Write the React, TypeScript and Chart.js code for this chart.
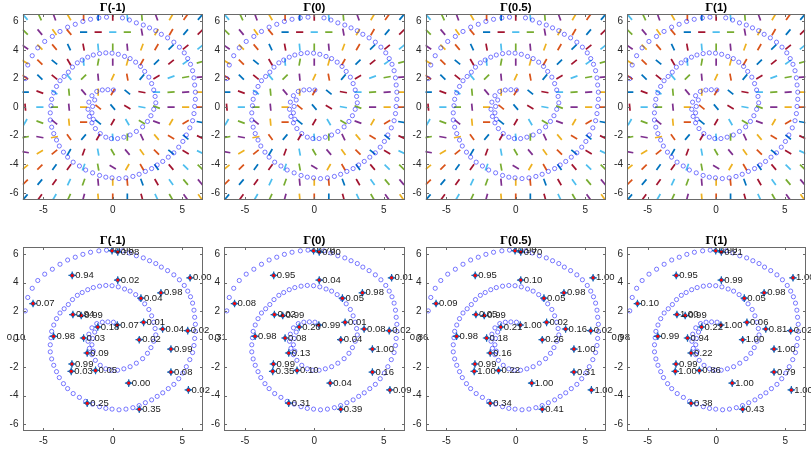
import { useEffect, useRef } from 'react';
import { Chart, registerables } from 'chart.js';

Chart.register(...registerables);

// ---------- data ----------
const panelParams = ['(-1)', '(0)', '(0.5)', '(1)'];
const axisRange = [-6.5, 6.5];
const xTickValues = [-5, 0, 5];
const yTickValues = [-6, -4, -2, 0, 2, 4, 6];

// spiral training points (shared by all panels)
const spiralX = [
  -6.3, -6.12, -5.8, -5.4, -4.9, -4.35, -3.8, -3.25, -2.7, -2.15, -1.6, -1.0, -0.45,
  0.7, 1.2, 1.7, 2.2, 2.65, 3.1, 3.5, 3.95, 4.4, 4.8, 5.15, 5.4, 5.6, 5.75, 5.85, 5.9, 5.95, 5.95, 5.9,
  5.85, 5.75, 5.55, 5.3, 5.05, 4.75, 4.4, 4.0, 3.6, 3.2, 2.8, 2.35, 1.9, 1.45, 0.95, 0.45, -0.05, -0.5,
  -0.95, -1.45, -1.95, -2.4, -2.85, -3.25, -3.55, -3.85, -4.05, -4.25, -4.4, -4.5, -4.5, -4.45,
  -4.4, -4.25, -4.05, -3.8, -3.5, -3.2, -2.9, -2.55, -2.2,
  -1.8, -1.4, -0.95, -0.5, -0.05, 0.4, 0.85, 1.25, 1.65, 2.0, 2.3, 2.6, 2.8, 2.95, 3.05, 3.1, 2.95, 2.75, 2.5, 2.15,
  1.7, 1.25, 0.8, 0.35, -0.1, -0.5, -0.9, -1.25, -1.5, -1.68,
  -1.78, -1.72, -1.5, -1.15, -0.75, -0.35, 0.05,
  -1.3, -1.45, -1.5, -1.4,
];
const spiralY = [
  2.0, 2.95, 3.6, 4.15, 4.6, 4.95, 5.3, 5.6, 5.8, 6.0, 6.15, 6.25, 6.3,
  6.25, 6.1, 5.9, 5.75, 5.55, 5.35, 5.1, 4.85, 4.55, 4.2, 3.8, 3.4, 3.0, 2.55, 2.05, 1.55, 1.05, 0.55, 0.05,
  -0.45, -0.95, -1.45, -1.95, -2.4, -2.8, -3.2, -3.5, -3.8, -4.05, -4.3, -4.5, -4.7, -4.85, -4.95, -5.0, -4.95, -4.9,
  -4.78, -4.6, -4.4, -4.12, -3.85, -3.5, -3.15, -2.72, -2.3, -1.85, -1.4, -0.9, -0.4, 0.1,
  0.55, 1.0, 1.45, 1.85, 2.15, 2.45, 2.8, 3.1, 3.3,
  3.5, 3.65, 3.75, 3.8, 3.78, 3.7, 3.55, 3.4, 3.15, 2.85, 2.5, 2.1, 1.65, 1.2, 0.75, 0.3, -0.15, -0.6, -1.0, -1.38,
  -1.7, -1.95, -2.1, -2.2, -2.2, -2.1, -1.85, -1.5, -1.1, -0.65,
  -0.15, 0.35, 0.8, 1.1, 1.2, 1.22, 1.2,
  0.5, 0.05, -0.4, -0.85,
];

// direction field: grid coordinates and angle (degrees, counter-clockwise), rows top -> bottom
const fieldGrid = [-6.3, -5.25, -4.2, -3.15, -2.1, -1.05, 0, 1.05, 2.1, 3.15, 4.2, 5.25, 6.3];
const fieldAngles = [
  [-50, -65, -70, -60, 90, 90, 90, 95, 95, -70, 60, 55, 50],
  [-45, -50, -55, -50, 0, 0, 0, 0, 100, 60, 60, 50, 45],
  [-35, -45, -50, -65, 100, 95, 90, 95, 70, 60, 45, 40, 40],
  [-30, -45, -40, -60, 95, 80, 90, 75, 60, 45, 40, 35, 15],
  [-35, -45, -40, -50, 45, 95, 65, 100, 50, 30, 20, 10, 5],
  [0, -20, -35, 95, -50, 90, 60, -40, -10, 0, 5, 5, 0],
  [95, 0, 0, 95, 0, -40, -50, -30, -10, -20, 0, 0, 0],
  [60, -20, -40, 95, 0, -40, 60, -60, -30, -20, 60, 30, -10],
  [10, -10, 10, -55, 50, 60, 95, 90, -65, -50, -30, -40, -25],
  [-10, 30, 40, 60, 70, 100, -60, -50, -55, -45, -40, -30, -25],
  [40, 45, 55, 55, 70, 100, -30, 60, -60, -55, -50, -45, -45],
  [45, 50, 55, 65, 70, 95, 90, 95, -70, -60, -55, -50, -50],
  [50, 55, 60, 65, 75, 95, 90, 90, -75, -65, -60, -55, -55],
];

// probe points shown in bottom panels
const probeX = [-0.05, 0.36, -2.92, 0.36, 5.57, 3.47, 2.03, -5.74, -2.87, -2.27, -1.08, 0.33, 2.22, 3.59, 5.4,
  -4.26, -2.1, 1.91, -1.84, 4.19, -2.94, -2.99, -1.24, 4.19, 1.15, 5.45, -1.84, 1.91, -7.85];
const probeY = [6.26, 6.17, 4.51, 4.18, 4.34, 3.28, 2.9, 2.52, 1.74, 1.67, 0.86, 1.0, 1.19, 0.72, 0.6,
  0.2, 0.08, -0.04, -0.98, -0.7, -1.76, -2.28, -2.21, -2.33, -3.11, -3.59, -4.53, -4.96, 0.15];
const probeLabelsM1 = ['0.96', '0.08', '0.94', '0.02', '0.00', '0.98', '0.04', '0.07', '0.94', '0.99', '0.18', '0.07', '0.01', '0.04', '0.02',
  '0.98', '0.03', '0.02', '0.09', '0.99', '0.99', '0.03', '0.05', '0.08', '0.00', '0.02', '0.25', '0.35', '0.10'];
const probeLabels0 = ['0.70', '0.00', '0.95', '0.04', '0.01', '0.98', '0.05', '0.08', '0.02', '0.99', '0.20', '0.99', '0.01', '0.08', '0.02',
  '0.98', '0.08', '0.04', '0.13', '1.00', '0.99', '0.35', '0.10', '0.16', '0.04', '0.09', '0.31', '0.39', '0.31'];
const probeLabelsHalf = ['0.90', '0.70', '0.95', '0.10', '1.00', '0.98', '0.05', '0.09', '0.05', '0.99', '0.21', '1.00', '0.02', '0.16', '0.02',
  '0.98', '0.18', '0.26', '0.16', '1.00', '0.99', '1.00', '0.22', '0.31', '1.00', '1.00', '0.34', '0.41', '0.86'];
const probeLabels1 = ['0.90', '0.21', '0.95', '0.99', '1.00', '0.98', '0.05', '0.10', '1.00', '0.99', '0.22', '1.00', '0.06', '0.81', '0.02',
  '0.99', '0.94', '1.00', '0.22', '1.00', '0.99', '1.00', '0.86', '0.79', '1.00', '1.00', '0.38', '0.43', '0.98'];
const probeLabelSets = [probeLabelsM1, probeLabels0, probeLabelsHalf, probeLabels1];

// ---------- style / layout ----------
const PAGE_W = 811;
const PAGE_H = 451;
const panelLefts = [22.5, 224, 425.5, 627];
const panelWidth = 180.5;
const rowTops = [14.3, 247.3];
const rowHeights = [185.7, 183.7];
const Y_AXIS_W = 20;
const X_AXIS_H = 20;
const lineColors = ['#0072BD', '#D95319', '#EDB120', '#7E2F8E', '#77AC30', '#4DBEEE', '#A2142F'];
const SANS = '"Liberation Sans", Arial, Helvetica, sans-serif';
const SERIF = '"Liberation Serif", "Times New Roman", serif';

const decorPlugin = {
  id: 'decor',
  afterDatasetsDraw(chart: any, _args: any, opts: any) {
    const { ctx, chartArea: a, scales } = chart;
    const xs = scales.x;
    const ys = scales.y;
    ctx.save();
    // probe labels (not clipped, like the original)
    if (opts.labels) {
      ctx.font = `9.5px ${SANS}`;
      ctx.fillStyle = '#1a1a1a';
      ctx.textAlign = 'left';
      ctx.textBaseline = 'middle';
      opts.labels.forEach((t: string, i: number) => {
        ctx.fillText(t, xs.getPixelForValue(probeX[i]) + 3, ys.getPixelForValue(probeY[i]));
      });
    }
    // axes box
    const l = Math.round(a.left) + 0.5;
    const r = Math.round(a.right) - 0.5;
    const t = Math.round(a.top) + 0.5;
    const b = Math.round(a.bottom) - 0.5;
    ctx.strokeStyle = '#6a6a6a';
    ctx.lineWidth = 1;
    ctx.strokeRect(l, t, r - l, b - t);
    // inward tick marks on all sides
    ctx.beginPath();
    xTickValues.forEach((v) => {
      const px = Math.round(xs.getPixelForValue(v)) + 0.5;
      ctx.moveTo(px, b); ctx.lineTo(px, b - 2.5);
      ctx.moveTo(px, t); ctx.lineTo(px, t + 2.5);
    });
    yTickValues.forEach((v) => {
      const py = Math.round(ys.getPixelForValue(v)) + 0.5;
      ctx.moveTo(l, py); ctx.lineTo(l + 2.5, py);
      ctx.moveTo(r, py); ctx.lineTo(r - 2.5, py);
    });
    ctx.stroke();
    // title: Gamma(param)
    const cx = (a.left + a.right) / 2;
    const by = a.top - 3;
    ctx.fillStyle = '#000';
    ctx.textBaseline = 'alphabetic';
    ctx.textAlign = 'left';
    const gFont = `bold 12.5px ${SERIF}`;
    const pFont = `bold 11.5px ${SANS}`;
    ctx.font = gFont;
    const gw = ctx.measureText('Γ').width;
    ctx.font = pFont;
    const pw = ctx.measureText(opts.param).width;
    const sx = cx - (gw + pw) / 2;
    ctx.font = gFont;
    ctx.fillText('Γ', sx, by);
    ctx.font = pFont;
    ctx.fillText(opts.param, sx + gw, by);
    ctx.restore();
  },
};

function buildConfig(panel: number) {
  const row = panel < 4 ? 0 : 1;
  const col = panel % 4;
  const left = panelLefts[col];
  const top = rowTops[row];
  const height = rowHeights[row];

  const spiralPts = spiralX.map((x, i) => ({ x, y: spiralY[i] }));
  const datasets: any[] = [
    {
      label: 'data',
      data: spiralPts,
      pointStyle: 'circle',
      pointRadius: 2.1,
      pointBorderWidth: 0.8,
      pointBorderColor: 'rgba(20,20,255,0.7)',
      pointBackgroundColor: 'rgba(0,0,0,0)',
      order: row === 0 ? 0 : 5,
    },
  ];

  if (row === 0) {
    const segPts: any[] = [];
    const segRot: number[] = [];
    const segCol: string[] = [];
    for (let r = 0; r < fieldGrid.length; r++) {
      for (let c = 0; c < fieldGrid.length; c++) {
        segPts.push({ x: fieldGrid[c], y: fieldGrid[fieldGrid.length - 1 - r] });
        segRot.push(-fieldAngles[r][c]);
        segCol.push(lineColors[(c * 13 + (12 - r)) % 7]);
      }
    }
    datasets.push({
      label: 'field',
      data: segPts,
      pointStyle: 'line',
      pointRadius: 3.6,
      pointBorderWidth: 1.7,
      pointRotation: segRot,
      pointBorderColor: segCol,
      order: 1,
    });
  } else {
    const probePts = probeX.map((x, i) => ({ x, y: probeY[i] }));
    datasets.push(
      {
        label: 'probe-red',
        data: probePts,
        pointStyle: 'circle',
        pointRadius: 1.5,
        pointBorderWidth: 0,
        pointBackgroundColor: '#ff0000',
        pointBorderColor: '#ff0000',
        order: 0,
      },
      {
        label: 'probe-diamond',
        data: probePts,
        pointStyle: 'rectRot',
        pointRadius: 3.1,
        pointBorderWidth: 0,
        pointBackgroundColor: '#1565b5',
        order: 1,
      },
      {
        label: 'probe-plus',
        data: probePts,
        pointStyle: 'cross',
        pointRadius: 3.8,
        pointBorderWidth: 1.2,
        pointBorderColor: '#1565b5',
        order: 2,
      },
    );
  }

  const tickFont = { family: SANS, size: 10 };
  return {
    type: 'scatter',
    data: { datasets },
    options: {
      animation: false,
      responsive: false,
      events: [],
      layout: {
        padding: {
          left: left - Y_AXIS_W,
          top: top,
          right: PAGE_W - (left + panelWidth),
          bottom: PAGE_H - (top + height) - X_AXIS_H,
        },
      },
      scales: {
        x: {
          type: 'linear',
          min: axisRange[0],
          max: axisRange[1],
          afterBuildTicks: (s: any) => { s.ticks = xTickValues.map((v) => ({ value: v })); },
          afterFit: (s: any) => { s.height = X_AXIS_H; },
          grid: { display: false, drawTicks: false },
          border: { display: false },
          ticks: { padding: 4, color: '#262626', font: tickFont, maxRotation: 0, autoSkip: false },
        },
        y: {
          type: 'linear',
          min: axisRange[0],
          max: axisRange[1],
          afterBuildTicks: (s: any) => { s.ticks = yTickValues.map((v) => ({ value: v })); },
          afterFit: (s: any) => { s.width = Y_AXIS_W; },
          grid: { display: false, drawTicks: false },
          border: { display: false },
          ticks: { padding: 4, color: '#262626', font: tickFont, autoSkip: false },
        },
      },
      plugins: {
        legend: { display: false },
        tooltip: { enabled: false },
        title: { display: false },
        decor: {
          param: panelParams[col],
          labels: row === 1 ? probeLabelSets[col] : null,
        },
      },
    },
    plugins: [decorPlugin],
  };
}

export default function App() {
  const refs = useRef<(HTMLCanvasElement | null)[]>([]);
  useEffect(() => {
    const charts: Chart[] = [];
    for (let p = 0; p < 8; p++) {
      const cv = refs.current[p];
      if (!cv) continue;
      charts.push(new Chart(cv, buildConfig(p) as any));
    }
    return () => { charts.forEach((c) => c.destroy()); };
  }, []);
  return (
    <div style={{ position: 'absolute', left: 0, top: 0, width: PAGE_W, height: PAGE_H, background: '#fff', overflow: 'hidden' }}>
      {Array.from({ length: 8 }).map((_, i) => (
        <canvas
          key={i}
          ref={(el) => { refs.current[i] = el; }}
          width={PAGE_W}
          height={PAGE_H}
          style={{ position: 'absolute', left: 0, top: 0, width: PAGE_W, height: PAGE_H }}
        />
      ))}
    </div>
  );
}
